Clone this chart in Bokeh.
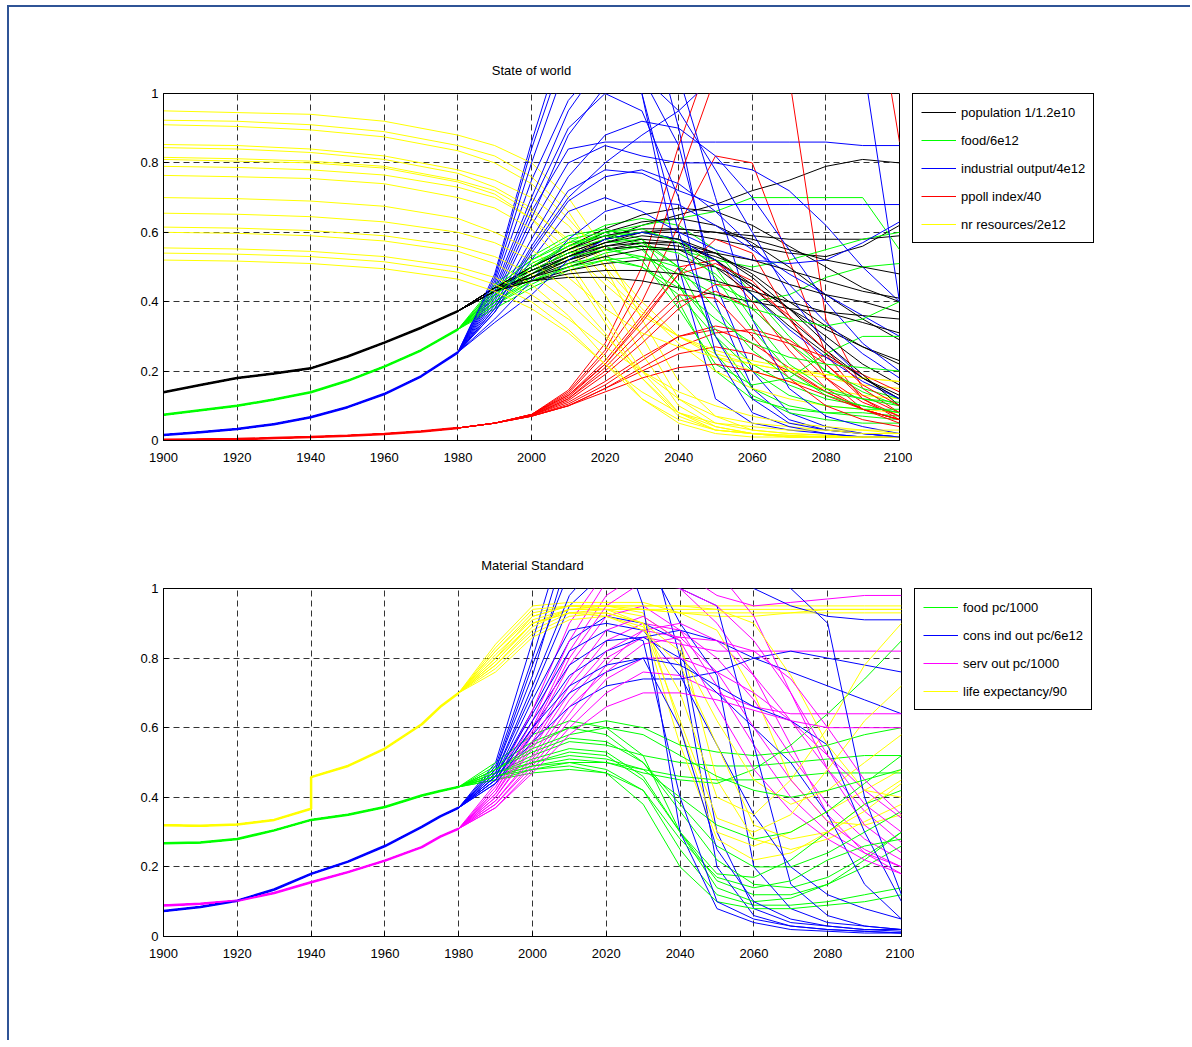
from bokeh.plotting import figure
from bokeh.models import Range1d, FixedTicker, Legend, LegendItem
from bokeh.layouts import column, row
from bokeh.embed import file_html
from bokeh.resources import INLINE

FONT = "Liberation Sans"
NAN = float("nan")

# ---------------- State of world ----------------
X_TICKS = [1900, 1920, 1940, 1960, 1980, 2000, 2020, 2040, 2060, 2080, 2100]
Y_TICKS = [0, 0.2, 0.4, 0.6, 0.8, 1]

HIST_YEARS = [1900, 1910, 1920, 1930, 1940, 1950, 1960, 1970, 1980]
RUN_YEARS = [1990, 2000, 2010, 2020, 2030, 2040, 2050, 2060, 2070, 2080, 2090, 2100]

POP_HIST = [0.139, 0.16, 0.18, 0.193, 0.208, 0.242, 0.282, 0.325, 0.373]
FOOD_HIST = [0.074, 0.087, 0.10, 0.118, 0.139, 0.172, 0.213, 0.26, 0.32]
IND_HIST = [0.016, 0.024, 0.033, 0.047, 0.067, 0.096, 0.134, 0.185, 0.254]
POLL_HIST = [0.002, 0.003, 0.004, 0.007, 0.010, 0.014, 0.019, 0.026, 0.036]

POP_RUNS = [
    [0.43, 0.48, 0.53, 0.58, 0.62, 0.65, 0.68, 0.72, 0.75, 0.79, 0.81, 0.80],
    [0.44, 0.49, 0.54, 0.58, 0.60, 0.60, 0.58, 0.56, 0.54, 0.53, 0.56, 0.62],
    [0.44, 0.50, 0.56, 0.61, 0.65, 0.67, 0.66, 0.62, 0.56, 0.50, 0.44, 0.40],
    [0.43, 0.48, 0.53, 0.57, 0.60, 0.61, 0.60, 0.59, 0.58, 0.58, 0.58, 0.59],
    [0.44, 0.49, 0.54, 0.58, 0.60, 0.58, 0.52, 0.45, 0.38, 0.32, 0.27, 0.23],
    [0.43, 0.47, 0.51, 0.55, 0.57, 0.57, 0.54, 0.48, 0.40, 0.33, 0.27, 0.22],
    [0.44, 0.50, 0.55, 0.60, 0.63, 0.64, 0.62, 0.57, 0.50, 0.42, 0.35, 0.29],
    [0.43, 0.46, 0.49, 0.51, 0.52, 0.52, 0.50, 0.45, 0.38, 0.30, 0.22, 0.16],
    [0.44, 0.46, 0.47, 0.47, 0.46, 0.44, 0.42, 0.40, 0.38, 0.37, 0.36, 0.35],
    [0.43, 0.48, 0.52, 0.55, 0.56, 0.55, 0.50, 0.42, 0.33, 0.25, 0.18, 0.13],
    [0.44, 0.49, 0.53, 0.56, 0.57, 0.56, 0.53, 0.49, 0.45, 0.42, 0.40, 0.37],
    [0.43, 0.47, 0.52, 0.56, 0.58, 0.57, 0.52, 0.44, 0.35, 0.26, 0.18, 0.12],
    [0.44, 0.50, 0.55, 0.59, 0.61, 0.61, 0.60, 0.58, 0.55, 0.52, 0.50, 0.48],
    [0.43, 0.48, 0.53, 0.57, 0.59, 0.58, 0.54, 0.47, 0.38, 0.28, 0.19, 0.10],
    [0.44, 0.47, 0.50, 0.53, 0.55, 0.55, 0.54, 0.52, 0.49, 0.46, 0.43, 0.41],
    [0.43, 0.46, 0.48, 0.49, 0.49, 0.48, 0.46, 0.43, 0.40, 0.37, 0.34, 0.31],
]

FOOD_RUNS = [
    [0.42, 0.50, 0.57, 0.62, 0.64, 0.62, 0.55, 0.42, 0.30, 0.20, 0.14, 0.10],
    [0.40, 0.47, 0.53, 0.57, 0.58, 0.50, 0.30, 0.15, 0.10, 0.08, 0.07, 0.06],
    [0.44, 0.52, 0.58, 0.60, 0.56, 0.40, 0.20, 0.12, 0.09, 0.08, 0.08, 0.07],
    [0.41, 0.48, 0.55, 0.60, 0.62, 0.64, 0.66, 0.70, 0.70, 0.70, 0.70, 0.55],
    [0.39, 0.45, 0.50, 0.54, 0.56, 0.55, 0.52, 0.50, 0.52, 0.55, 0.58, 0.60],
    [0.43, 0.50, 0.55, 0.58, 0.55, 0.45, 0.32, 0.22, 0.16, 0.12, 0.10, 0.08],
    [0.38, 0.44, 0.49, 0.52, 0.53, 0.50, 0.45, 0.40, 0.42, 0.47, 0.50, 0.51],
    [0.45, 0.53, 0.59, 0.61, 0.58, 0.45, 0.25, 0.13, 0.08, 0.06, 0.05, 0.05],
    [0.40, 0.47, 0.52, 0.55, 0.56, 0.54, 0.48, 0.38, 0.28, 0.20, 0.15, 0.12],
    [0.42, 0.49, 0.54, 0.56, 0.52, 0.38, 0.22, 0.16, 0.18, 0.25, 0.30, 0.30],
    [0.39, 0.46, 0.51, 0.53, 0.50, 0.42, 0.30, 0.20, 0.13, 0.10, 0.09, 0.09],
    [0.43, 0.51, 0.56, 0.59, 0.60, 0.58, 0.50, 0.35, 0.22, 0.15, 0.12, 0.10],
    [0.41, 0.48, 0.53, 0.55, 0.53, 0.48, 0.42, 0.38, 0.35, 0.33, 0.35, 0.40],
    [0.44, 0.52, 0.57, 0.59, 0.57, 0.50, 0.38, 0.26, 0.18, 0.14, 0.12, 0.11],
    [0.40, 0.46, 0.50, 0.52, 0.50, 0.44, 0.35, 0.28, 0.24, 0.22, 0.21, 0.20],
    [0.42, 0.50, 0.56, 0.60, 0.61, 0.57, 0.47, 0.32, 0.20, 0.13, 0.10, 0.08],
]

IND_RUNS = [
    [0.48, 0.86, 1.20, 1.40, 1.30, 0.90, 0.40, 0.15, 0.06, 0.03, 0.02, 0.01],
    [0.45, 0.75, 0.98, 1.10, 1.05, 0.85, 0.45, 0.20, 0.08, 0.04, 0.02, 0.01],
    [0.42, 0.66, 0.84, 0.86, 0.86, 0.86, 0.86, 0.86, 0.86, 0.86, 0.85, 0.85],
    [0.40, 0.62, 0.80, 0.85, 0.82, 0.80, 0.80, 0.78, 0.72, 0.62, 0.50, 0.40],
    [0.38, 0.56, 0.72, 0.78, 0.77, 0.72, 0.68, 0.68, 0.68, 0.68, 0.68, 0.68],
    [0.37, 0.52, 0.66, 0.70, 0.66, 0.60, 0.55, 0.52, 0.51, 0.52, 0.57, 0.63],
    [0.44, 0.70, 0.95, 1.10, 1.00, 0.50, 0.12, 0.05, 0.03, 0.02, 0.01, 0.01],
    [0.35, 0.46, 0.58, 0.66, 0.69, 0.68, 0.62, 0.55, 0.48, 0.42, 0.36, 0.30],
    [0.41, 0.64, 0.88, 1.02, 1.05, 0.95, 0.78, 0.60, 0.42, 0.28, 0.18, 0.12],
    [0.39, 0.58, 0.76, 0.88, 0.92, 0.90, 0.82, 0.70, 0.55, 0.40, 0.28, 0.20],
    [0.46, 0.80, 1.10, 1.30, 1.25, 1.05, 0.70, 0.35, 0.15, 0.07, 0.04, 0.02],
    [0.34, 0.42, 0.52, 0.58, 0.60, 0.58, 0.52, 0.42, 0.32, 0.24, 0.17, 0.12],
    [0.43, 0.68, 0.90, 1.00, 0.95, 0.70, 0.25, 0.08, 0.04, 0.02, 0.01, 0.01],
    [0.37, 0.54, 0.69, 0.76, 0.78, 0.74, 0.66, 0.56, 0.45, 0.34, 0.25, 0.18],
    [0.38, 0.55, 0.70, 0.80, 0.88, 0.95, 1.05, 1.15, 1.20, 1.30, 1.10, 0.40],
    [0.47, 0.84, 1.15, 1.25, 1.00, 0.60, 0.30, 0.12, 0.05, 0.03, 0.02, 0.01],
]

POLL_RUNS = [
    [0.05, 0.072, 0.11, 0.17, 0.24, 0.30, 0.32, 0.28, 0.21, 0.14, 0.09, 0.06],
    [0.05, 0.075, 0.13, 0.23, 0.36, 0.50, 0.52, 0.40, 0.26, 0.15, 0.09, 0.06],
    [0.05, 0.075, 0.135, 0.25, 0.40, 0.62, 0.82, 0.80, 0.52, 0.25, 0.12, 0.06],
    [0.05, 0.075, 0.145, 0.28, 0.50, 0.85, 1.15, 1.40, 1.05, 0.35, 0.15, 0.08],
    [0.05, 0.075, 0.14, 0.26, 0.45, 0.75, 1.05, 1.30, 1.50, 1.60, 1.50, 0.86],
    [0.05, 0.07, 0.10, 0.15, 0.20, 0.25, 0.27, 0.25, 0.20, 0.14, 0.09, 0.06],
    [0.05, 0.07, 0.10, 0.15, 0.21, 0.27, 0.31, 0.32, 0.29, 0.22, 0.13, 0.08],
    [0.05, 0.072, 0.12, 0.20, 0.30, 0.40, 0.43, 0.38, 0.28, 0.18, 0.11, 0.07],
    [0.05, 0.075, 0.13, 0.22, 0.34, 0.48, 0.58, 0.54, 0.36, 0.18, 0.09, 0.05],
    [0.05, 0.07, 0.105, 0.16, 0.23, 0.30, 0.33, 0.31, 0.28, 0.24, 0.19, 0.14],
    [0.05, 0.073, 0.12, 0.21, 0.32, 0.42, 0.41, 0.30, 0.18, 0.10, 0.06, 0.04],
    [0.05, 0.07, 0.10, 0.14, 0.18, 0.21, 0.22, 0.20, 0.17, 0.13, 0.09, 0.06],
    [0.05, 0.074, 0.125, 0.22, 0.35, 0.48, 0.51, 0.46, 0.35, 0.22, 0.12, 0.07],
    [0.05, 0.072, 0.115, 0.19, 0.28, 0.38, 0.45, 0.44, 0.36, 0.26, 0.16, 0.10],
]

RES_YEARS = [1900, 1920, 1940, 1960, 1980, 1990, 2000, 2010, 2020, 2030, 2040,
             2050, 2060, 2070, 2080, 2090, 2100]
RES_RUNS = [
    [0.95, 0.945, 0.94, 0.92, 0.88, 0.85, 0.80, 0.70, 0.55, 0.35, 0.17, 0.07, 0.03, 0.02, 0.015, 0.01, 0.01],
    [0.923, 0.92, 0.91, 0.89, 0.85, 0.82, 0.76, 0.66, 0.50, 0.30, 0.12, 0.05, 0.03, 0.02, 0.015, 0.01, 0.01],
    [0.91, 0.905, 0.895, 0.875, 0.835, 0.80, 0.74, 0.64, 0.52, 0.40, 0.30, 0.24, 0.20, 0.17, 0.15, 0.13, 0.12],
    [0.853, 0.85, 0.84, 0.82, 0.78, 0.75, 0.70, 0.62, 0.50, 0.38, 0.28, 0.20, 0.15, 0.12, 0.10, 0.09, 0.08],
    [0.844, 0.84, 0.83, 0.81, 0.77, 0.73, 0.67, 0.57, 0.42, 0.25, 0.10, 0.04, 0.02, 0.015, 0.01, 0.01, 0.01],
    [0.816, 0.812, 0.805, 0.79, 0.75, 0.72, 0.66, 0.58, 0.47, 0.37, 0.30, 0.25, 0.22, 0.20, 0.18, 0.16, 0.15],
    [0.81, 0.805, 0.80, 0.785, 0.745, 0.71, 0.64, 0.52, 0.36, 0.20, 0.08, 0.03, 0.02, 0.01, 0.01, 0.01, 0.01],
    [0.79, 0.787, 0.78, 0.765, 0.73, 0.70, 0.64, 0.55, 0.45, 0.36, 0.30, 0.26, 0.23, 0.21, 0.19, 0.18, 0.17],
    [0.764, 0.76, 0.755, 0.74, 0.70, 0.67, 0.61, 0.50, 0.34, 0.18, 0.07, 0.03, 0.02, 0.01, 0.01, 0.01, 0.01],
    [0.70, 0.697, 0.69, 0.675, 0.64, 0.60, 0.55, 0.47, 0.38, 0.31, 0.27, 0.24, 0.22, 0.20, 0.19, 0.18, 0.17],
    [0.655, 0.652, 0.645, 0.63, 0.60, 0.57, 0.52, 0.43, 0.31, 0.18, 0.08, 0.04, 0.02, 0.015, 0.01, 0.01, 0.01],
    [0.615, 0.612, 0.605, 0.59, 0.56, 0.53, 0.48, 0.40, 0.30, 0.20, 0.12, 0.07, 0.05, 0.04, 0.03, 0.03, 0.02],
    [0.60, 0.597, 0.59, 0.575, 0.545, 0.51, 0.45, 0.36, 0.24, 0.12, 0.05, 0.02, 0.01, 0.01, 0.01, 0.01, 0.01],
    [0.555, 0.552, 0.545, 0.53, 0.50, 0.47, 0.42, 0.35, 0.27, 0.20, 0.14, 0.10, 0.07, 0.05, 0.04, 0.03, 0.03],
    [0.54, 0.537, 0.53, 0.515, 0.485, 0.45, 0.40, 0.32, 0.22, 0.12, 0.06, 0.03, 0.02, 0.01, 0.01, 0.01, 0.01],
    [0.52, 0.517, 0.51, 0.495, 0.465, 0.43, 0.38, 0.31, 0.22, 0.14, 0.08, 0.05, 0.04, 0.03, 0.03, 0.02, 0.02],
]

# ---------------- Material Standard ----------------
MS_HIST_YEARS = [1900, 1910, 1920, 1930, 1940, 1950, 1960, 1970, 1975, 1980]
FOODPC_HIST = [0.268, 0.270, 0.280, 0.305, 0.335, 0.350, 0.372, 0.405, 0.418, 0.430]
CIOPC_HIST = [0.073, 0.085, 0.103, 0.135, 0.180, 0.215, 0.260, 0.315, 0.345, 0.370]
SOPC_HIST = [0.089, 0.094, 0.103, 0.125, 0.156, 0.185, 0.218, 0.257, 0.287, 0.310]
LIFE_HIST_YEARS = [1900, 1910, 1920, 1930, 1940, 1940, 1950, 1960, 1970, 1975, 1980]
LIFE_HIST = [0.320, 0.318, 0.322, 0.335, 0.367, 0.458, 0.490, 0.540, 0.610, 0.660, 0.700]

FOODPC_RUNS = [
    [0.46, 0.50, 0.53, 0.52, 0.45, 0.30, 0.16, 0.12, 0.12, 0.15, 0.20, 0.26],
    [0.45, 0.47, 0.48, 0.47, 0.42, 0.25, 0.12, 0.09, 0.09, 0.10, 0.12, 0.14],
    [0.48, 0.55, 0.60, 0.58, 0.50, 0.36, 0.22, 0.15, 0.14, 0.17, 0.23, 0.30],
    [0.47, 0.52, 0.56, 0.55, 0.52, 0.50, 0.49, 0.49, 0.50, 0.51, 0.52, 0.52],
    [0.46, 0.49, 0.51, 0.50, 0.47, 0.45, 0.44, 0.48, 0.55, 0.64, 0.74, 0.85],
    [0.50, 0.58, 0.62, 0.60, 0.52, 0.30, 0.14, 0.10, 0.11, 0.15, 0.22, 0.30],
    [0.45, 0.48, 0.50, 0.50, 0.48, 0.46, 0.45, 0.45, 0.46, 0.47, 0.47, 0.47],
    [0.47, 0.51, 0.54, 0.53, 0.46, 0.30, 0.18, 0.17, 0.22, 0.30, 0.38, 0.42],
    [0.49, 0.56, 0.60, 0.62, 0.60, 0.55, 0.53, 0.52, 0.53, 0.55, 0.58, 0.60],
    [0.46, 0.48, 0.49, 0.47, 0.38, 0.20, 0.10, 0.08, 0.08, 0.09, 0.10, 0.12],
    [0.48, 0.53, 0.57, 0.56, 0.50, 0.38, 0.26, 0.20, 0.20, 0.24, 0.30, 0.36],
    [0.47, 0.50, 0.52, 0.51, 0.48, 0.40, 0.32, 0.28, 0.30, 0.36, 0.44, 0.52],
    [0.46, 0.49, 0.50, 0.48, 0.42, 0.28, 0.17, 0.14, 0.16, 0.22, 0.26, 0.28],
    [0.48, 0.54, 0.58, 0.60, 0.58, 0.52, 0.46, 0.42, 0.40, 0.42, 0.45, 0.48],
]

CIOPC_RUNS = [
    [0.48, 0.75, 1.10, 1.30, 1.20, 0.80, 0.20, 0.06, 0.03, 0.02, 0.015, 0.01],
    [0.46, 0.65, 0.85, 0.92, 0.90, 0.85, 0.30, 0.08, 0.04, 0.03, 0.02, 0.015],
    [0.50, 0.85, 1.20, 1.30, 1.10, 0.90, 0.75, 0.20, 0.08, 0.04, 0.03, 0.02],
    [0.45, 0.60, 0.75, 0.82, 0.86, 0.88, 0.85, 0.80, 0.76, 0.72, 0.68, 0.64],
    [0.47, 0.70, 0.95, 1.05, 1.10, 1.15, 1.10, 1.00, 0.95, 0.92, 0.91, 0.91],
    [0.44, 0.56, 0.66, 0.72, 0.74, 0.74, 0.76, 0.80, 0.82, 0.80, 0.78, 0.76],
    [0.49, 0.80, 1.15, 1.25, 0.95, 0.30, 0.08, 0.04, 0.02, 0.015, 0.01, 0.01],
    [0.46, 0.68, 0.88, 0.90, 0.88, 0.75, 0.55, 0.35, 0.20, 0.12, 0.08, 0.05],
    [0.45, 0.62, 0.78, 0.85, 0.86, 0.80, 0.70, 0.60, 0.50, 0.35, 0.15, 0.05],
    [0.48, 0.78, 1.05, 1.15, 1.10, 1.00, 0.95, 0.55, 0.15, 0.06, 0.03, 0.02],
    [0.44, 0.58, 0.70, 0.76, 0.80, 0.78, 0.72, 0.66, 0.62, 0.55, 0.30, 0.10],
    [0.47, 0.72, 0.98, 1.10, 1.20, 1.20, 1.10, 1.05, 1.00, 0.90, 0.40, 0.12],
    [0.46, 0.64, 0.82, 0.88, 0.85, 0.40, 0.10, 0.05, 0.03, 0.02, 0.015, 0.01],
    [0.45, 0.60, 0.72, 0.78, 0.80, 0.60, 0.25, 0.10, 0.05, 0.03, 0.02, 0.02],
]

SOPC_RUNS = [
    [0.40, 0.55, 0.72, 0.85, 0.90, 0.88, 0.80, 0.68, 0.52, 0.38, 0.28, 0.22],
    [0.42, 0.60, 0.82, 0.98, 1.05, 1.00, 0.90, 0.75, 0.55, 0.35, 0.24, 0.18],
    [0.38, 0.50, 0.64, 0.78, 0.88, 0.90, 0.85, 0.75, 0.62, 0.48, 0.36, 0.27],
    [0.44, 0.65, 0.90, 1.05, 1.10, 1.05, 0.98, 0.95, 0.96, 0.97, 0.98, 0.98],
    [0.39, 0.52, 0.68, 0.80, 0.86, 0.84, 0.82, 0.82, 0.82, 0.82, 0.82, 0.82],
    [0.41, 0.58, 0.78, 0.92, 0.95, 0.88, 0.72, 0.55, 0.40, 0.30, 0.24, 0.20],
    [0.37, 0.48, 0.60, 0.70, 0.76, 0.75, 0.70, 0.66, 0.64, 0.64, 0.64, 0.64],
    [0.43, 0.62, 0.85, 1.02, 1.10, 1.10, 1.05, 0.92, 0.70, 0.48, 0.32, 0.24],
    [0.40, 0.54, 0.70, 0.82, 0.88, 0.86, 0.76, 0.60, 0.45, 0.33, 0.25, 0.20],
    [0.38, 0.49, 0.62, 0.74, 0.80, 0.80, 0.76, 0.70, 0.62, 0.52, 0.42, 0.34],
    [0.42, 0.59, 0.80, 0.95, 1.02, 1.00, 0.95, 0.85, 0.70, 0.52, 0.38, 0.30],
    [0.39, 0.51, 0.66, 0.76, 0.84, 0.86, 0.85, 0.82, 0.74, 0.60, 0.45, 0.35],
    [0.41, 0.56, 0.74, 0.88, 0.92, 0.85, 0.66, 0.48, 0.36, 0.28, 0.22, 0.18],
    [0.37, 0.47, 0.58, 0.66, 0.70, 0.70, 0.68, 0.65, 0.62, 0.60, 0.60, 0.60],
]

LIFE_RUNS = [
    [0.80, 0.92, 0.95, 0.95, 0.95, 0.95, 0.95, 0.95, 0.95, 0.95, 0.95, 0.95],
    [0.78, 0.88, 0.93, 0.94, 0.94, 0.94, 0.94, 0.94, 0.94, 0.94, 0.94, 0.94],
    [0.82, 0.93, 0.95, 0.95, 0.93, 0.60, 0.30, 0.26, 0.30, 0.36, 0.42, 0.48],
    [0.79, 0.90, 0.94, 0.94, 0.92, 0.85, 0.45, 0.28, 0.25, 0.28, 0.33, 0.38],
    [0.84, 0.95, 0.96, 0.96, 0.96, 0.93, 0.88, 0.70, 0.45, 0.33, 0.32, 0.35],
    [0.77, 0.87, 0.92, 0.93, 0.90, 0.55, 0.28, 0.22, 0.24, 0.30, 0.38, 0.45],
    [0.81, 0.91, 0.94, 0.94, 0.94, 0.93, 0.92, 0.92, 0.93, 0.93, 0.93, 0.93],
    [0.76, 0.86, 0.91, 0.92, 0.89, 0.70, 0.40, 0.35, 0.45, 0.60, 0.78, 0.90],
    [0.83, 0.94, 0.95, 0.94, 0.90, 0.82, 0.62, 0.45, 0.38, 0.42, 0.50, 0.58],
    [0.80, 0.90, 0.93, 0.92, 0.88, 0.78, 0.55, 0.32, 0.28, 0.30, 0.36, 0.44],
    [0.78, 0.89, 0.94, 0.95, 0.95, 0.95, 0.94, 0.90, 0.75, 0.55, 0.42, 0.40],
    [0.82, 0.92, 0.95, 0.95, 0.94, 0.93, 0.93, 0.93, 0.93, 0.94, 0.94, 0.94],
    [0.79, 0.90, 0.93, 0.93, 0.90, 0.62, 0.34, 0.30, 0.35, 0.48, 0.62, 0.72],
]

WORLD_LABELS = ["population 1/1.2e10", "food/6e12", "industrial output/4e12",
                "ppoll index/40", "nr resources/2e12"]
MS_LABELS = ["food pc/1000", "cons ind out pc/6e12", "serv out pc/1000", "life expectancy/90"]

BLACK, GREEN, BLUE, RED, YELLOW, MAGENTA = "#000000", "#00ff00", "#0000ff", "#ff0000", "#ffff00", "#ff00ff"
WORLD_COLORS = [BLACK, GREEN, BLUE, RED, YELLOW]
MS_COLORS = [GREEN, BLUE, MAGENTA, YELLOW]


def make_fig(title, left, top, bottom, frame_w, frame_h):
    p = figure(frame_width=frame_w, frame_height=frame_h,
               x_range=Range1d(1900, 2100), y_range=Range1d(0, 1),
               output_backend="svg", toolbar_location=None,
               min_border_left=left, min_border_right=13,
               min_border_top=top, min_border_bottom=bottom)
    p.title.text = title
    p.title.align = "center"
    p.title.text_font = FONT
    p.title.text_font_size = "13px"
    p.title.text_font_style = "normal"
    p.title.text_color = "#000000"
    p.title.standoff = 31
    p.outline_line_color = "black"
    p.outline_line_alpha = 1
    p.outline_line_width = 1
    p.background_fill_color = "white"
    p.border_fill_color = "white"
    p.xaxis.ticker = FixedTicker(ticks=X_TICKS)
    p.yaxis.ticker = FixedTicker(ticks=Y_TICKS)
    p.yaxis.major_label_overrides = {0: "0", 1: "1"}
    for ax in (p.xaxis[0], p.yaxis[0]):
        ax.major_tick_in = 5
        ax.major_tick_out = 0
        ax.minor_tick_in = 0
        ax.minor_tick_out = 0
        ax.axis_line_color = "black"
        ax.major_tick_line_color = "black"
        ax.major_label_text_font = FONT
        ax.major_label_text_font_size = "13px"
        ax.major_label_text_color = "black"
    p.xaxis.major_label_standoff = 12
    p.yaxis.major_label_standoff = 5
    p.xgrid.ticker = FixedTicker(ticks=X_TICKS)
    p.ygrid.ticker = FixedTicker(ticks=Y_TICKS)
    for g in (p.xgrid[0], p.ygrid[0]):
        g.grid_line_color = "#333333"
        g.grid_line_dash = "6 4"
        g.grid_line_width = 1
        g.grid_line_alpha = 1
    return p


def draw_runs(p, specs):
    n = max(len(s[3]) for s in specs)
    for i in range(n):
        for xh, yh, xr, runs, color in specs:
            if i < len(runs):
                xs = list(xh) + list(xr)
                ys = list(yh) + list(runs[i])
                p.line(xs, ys, line_color=color, line_width=1)


def legend_fig(labels, colors, total_h, top, frame_w, frame_h):
    lf = figure(frame_width=frame_w, frame_height=frame_h,
                x_axis_type=None, y_axis_type=None,
                x_range=Range1d(0, 1), y_range=Range1d(0, 1),
                output_backend="svg", toolbar_location=None,
                min_border_left=0, min_border_right=0,
                min_border_top=top, min_border_bottom=total_h - top - frame_h)
    lf.outline_line_color = None
    lf.xgrid.visible = False
    lf.ygrid.visible = False
    lf.background_fill_color = "white"
    lf.border_fill_color = "white"
    items = []
    for lab, col in zip(labels, colors):
        # legend key only: a line with no visible point
        r = lf.multi_line(xs=[[NAN, NAN]], ys=[[NAN, NAN]], line_color=col,
                          line_width=1.2, line_alpha=1.0)
        items.append(LegendItem(label=lab, renderers=[r]))
    leg = Legend(items=items, location="top_left", orientation="vertical",
                 padding=8, spacing=8, label_height=20, glyph_height=20,
                 glyph_width=35, label_standoff=5, margin=0,
                 label_text_font=FONT, label_text_font_size="13px",
                 label_text_color="black",
                 border_line_color="black", border_line_width=1, border_line_alpha=1,
                 background_fill_color="white", background_fill_alpha=1)
    lf.add_layout(leg)
    return lf


# ---- figure 1 ----
TOP1, BOT1 = 86, 60
p1 = make_fig("State of world", 154, TOP1, BOT1, 736, 347)
for yh, c in ((POP_HIST, BLACK), (FOOD_HIST, GREEN), (IND_HIST, BLUE), (POLL_HIST, RED)):
    p1.line(HIST_YEARS, yh, line_color=c, line_width=2.5)
draw_runs(p1, [
    (HIST_YEARS, POP_HIST, RUN_YEARS, POP_RUNS, BLACK),
    (HIST_YEARS, FOOD_HIST, RUN_YEARS, FOOD_RUNS, GREEN),
    (HIST_YEARS, IND_HIST, RUN_YEARS, IND_RUNS, BLUE),
    (HIST_YEARS, POLL_HIST, RUN_YEARS, POLL_RUNS, RED),
    ([], [], RES_YEARS, RES_RUNS, YELLOW),
])
l1 = legend_fig(WORLD_LABELS, WORLD_COLORS, TOP1 + 347 + BOT1, TOP1, 200, 170)

# ---- figure 2 ----
TOP2, BOT2 = 88, 104
p2 = make_fig("Material Standard", 154, TOP2, BOT2, 738, 348)
for xh, yh, c in ((MS_HIST_YEARS, FOODPC_HIST, GREEN), (MS_HIST_YEARS, CIOPC_HIST, BLUE),
                  (MS_HIST_YEARS, SOPC_HIST, MAGENTA), (LIFE_HIST_YEARS, LIFE_HIST, YELLOW)):
    p2.line(xh, yh, line_color=c, line_width=2.5)
draw_runs(p2, [
    (MS_HIST_YEARS, FOODPC_HIST, RUN_YEARS, FOODPC_RUNS, GREEN),
    (MS_HIST_YEARS, CIOPC_HIST, RUN_YEARS, CIOPC_RUNS, BLUE),
    (MS_HIST_YEARS, SOPC_HIST, RUN_YEARS, SOPC_RUNS, MAGENTA),
    (LIFE_HIST_YEARS, LIFE_HIST, RUN_YEARS, LIFE_RUNS, YELLOW),
])
l2 = legend_fig(MS_LABELS, MS_COLORS, TOP2 + 348 + BOT2, TOP2 - 1, 200, 140)

layout = column(row(p1, l1), row(p2, l2), width=1183,
                styles={"border-top": "2px solid #2f5496",
                        "border-left": "2px solid #2f5496",
                        "margin-left": "7px", "margin-top": "5px"})

open("out.html", "w").write(file_html(layout, INLINE))
